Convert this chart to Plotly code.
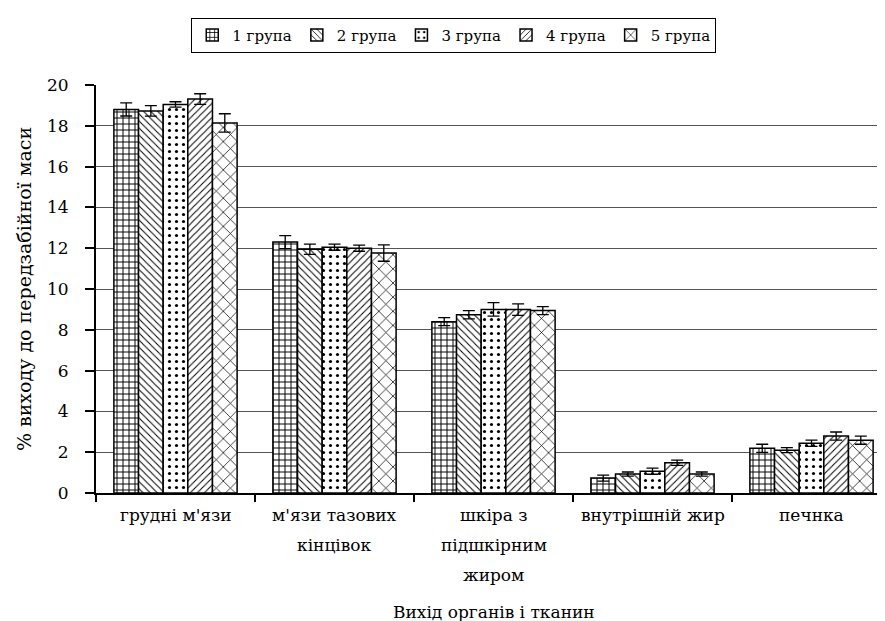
import plotly.graph_objects as go

categories = ["грудні м'язи", "м'язи тазових<br>кінцівок", "шкіра з<br>підшкірним<br>жиром", "внутрішній жир", "печнка"]
groups = ["1 група", "2 група", "3 група", "4 група", "5 група"]
values = [
    [18.8, 12.3, 8.4, 0.73, 2.19],
    [18.73, 11.95, 8.74, 0.93, 2.1],
    [19.05, 12.05, 9.0, 1.07, 2.44],
    [19.31, 12.0, 8.99, 1.48, 2.79],
    [18.14, 11.76, 8.94, 0.93, 2.59],
]
errors = [
    [0.32, 0.32, 0.2, 0.15, 0.2],
    [0.26, 0.25, 0.2, 0.1, 0.12],
    [0.13, 0.15, 0.33, 0.15, 0.15],
    [0.26, 0.15, 0.28, 0.13, 0.2],
    [0.45, 0.4, 0.2, 0.1, 0.2],
]
yticks = [0, 2, 4, 6, 8, 10, 12, 14, 16, 18, 20]
x_title = "Вихід органів і тканин"
y_title = "% виходу до передзабійної маси"

shapes = ["+", "\\", ".", "/", "x"]
sizes = [6, 5, 7, 5, 10]
solid = [0.3, 0.2, 0.16, 0.2, 0.14]

FONT = "DejaVu Serif"
fig = go.Figure()
for i, g in enumerate(groups):
    fig.add_trace(go.Bar(
        name=g, x=categories, y=values[i],
        error_y=dict(type="data", array=errors[i], color="black", thickness=1.3, width=6),
        marker=dict(color="white", line=dict(color="black", width=1.5),
                    pattern=dict(shape=shapes[i], fgcolor="black", bgcolor="white",
                                 size=sizes[i], solidity=solid[i], fillmode="replace")),
    ))

annotations = []
for c in categories:
    for j, line in enumerate(c.split("<br>")):
        annotations.append(dict(x=c, y=0, xref="x", yref="paper", text=line, showarrow=False,
                                yshift=-34 - 30 * j, font=dict(family=FONT, size=17, color="black")))
annotations.append(dict(x=0.5, y=0, xref="paper", yref="paper", text=x_title, showarrow=False,
                        yshift=-131, font=dict(family=FONT, size=17, color="black")))

fig.update_layout(
    width=885, height=621,
    margin=dict(l=88, r=2, t=77, b=136),
    paper_bgcolor="white", plot_bgcolor="white",
    barmode="group", bargap=0.225, bargroupgap=0,
    font=dict(family=FONT, size=17, color="black"),
    legend=dict(orientation="h", x=0.45, xanchor="center", y=1.165, yanchor="top",
                bordercolor="black", borderwidth=1, font=dict(family=FONT, size=15),
                itemwidth=30, traceorder="normal", tracegroupgap=0),
    annotations=annotations,
    showlegend=True,
)
fig.update_xaxes(showticklabels=False, showline=True, linecolor="black", linewidth=2,
                 ticks="outside", tickson="boundaries", ticklen=7, tickwidth=2, tickcolor="black")
fig.update_yaxes(range=[0, 20], tickvals=yticks, showline=True, linecolor="black", linewidth=2,
                 ticks="outside", ticklen=9, tickwidth=2, tickcolor="black", ticklabelstandoff=13,
                 showgrid=True, gridcolor="#555", gridwidth=1, zeroline=False,
                 tickfont=dict(family=FONT, size=17),
                 title=dict(text=y_title, font=dict(family=FONT, size=19), standoff=10))

fig.write_html("out.html")
